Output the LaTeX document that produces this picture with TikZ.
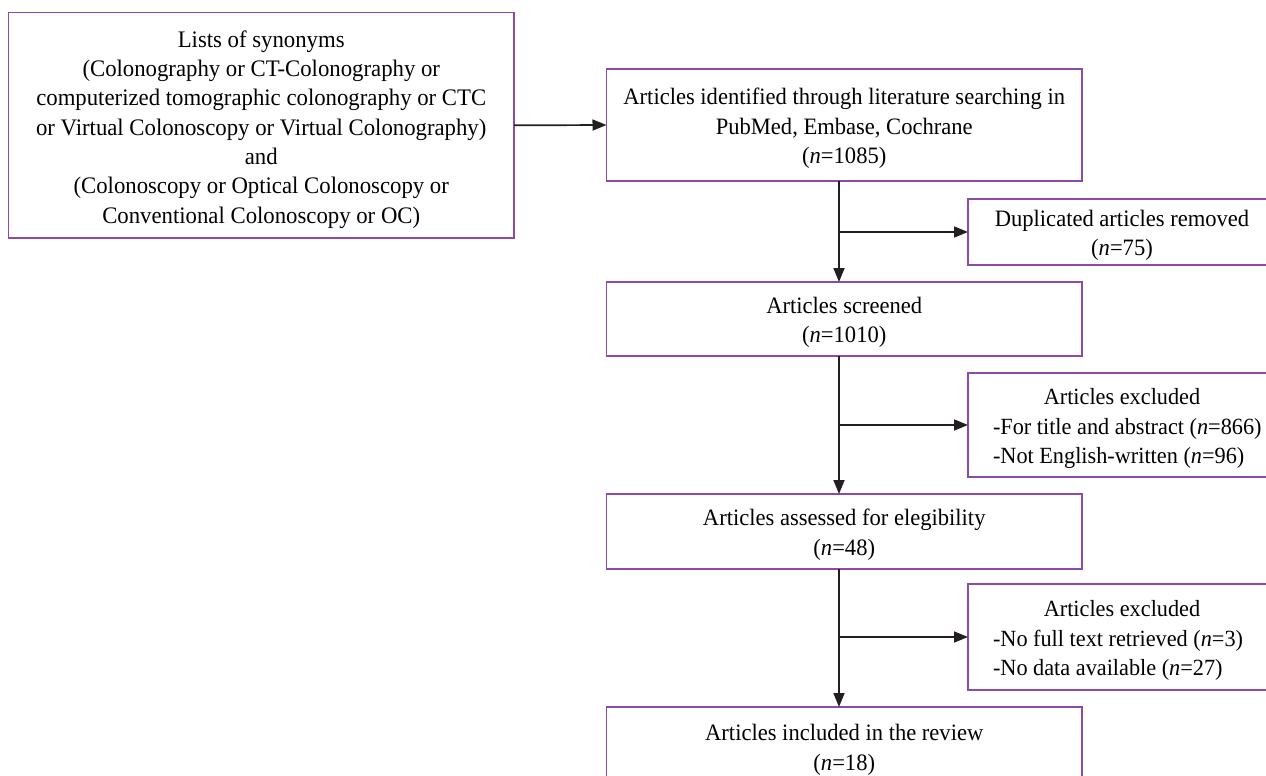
\documentclass[tikz,border=0pt]{standalone}
\usepackage{fontspec}
\setmainfont{Liberation Serif}[FakeStretch=0.96]
\usetikzlibrary{arrows.meta}
\definecolor{boxpurple}{RGB}{140,75,170}
\definecolor{arrowgray}{RGB}{35,31,32}
\newcommand\boxfs{\fontsize{23.5}{29.6}\selectfont}
\newcommand\sidefs{\fontsize{23.2}{29.6}\selectfont}
\newcommand\leftfs{\fontsize{23.7}{29.3}\selectfont}
\newcommand\sideC[1]{\makebox[258pt][c]{#1}}
\newcommand\sideL[1]{\makebox[258pt][l]{#1}}
\tikzset{
  flowbox/.style={draw=boxpurple, line width=1.5pt, inner sep=0pt, outer sep=0pt},
  flowtext/.style={inner sep=0pt, outer sep=0pt, align=center, font=\boxfs, text=black},
  flowarrow/.style={draw=arrowgray, line width=1.7pt, -{Triangle[length=14pt,width=11pt]}},
}
\begin{document}
\begin{tikzpicture}[x=1pt,y=-1pt]
\useasboundingbox (0,0) rectangle (1266,776);
% boxes
\node[flowbox, minimum width=505.5, minimum height=225.3] (left) at (261.25,125.35) {};
\node[flowbox, minimum width=475.5, minimum height=112] (b1) at (844.25,125) {};
\node[flowbox, minimum width=308, minimum height=66] (s1) at (1122,232) {};
\node[flowbox, minimum width=475.5, minimum height=74] (b2) at (844.25,319) {};
\node[flowbox, minimum width=308, minimum height=104] (s2) at (1122,425) {};
\node[flowbox, minimum width=475.5, minimum height=75] (b3) at (844.25,531.5) {};
\node[flowbox, minimum width=308, minimum height=106] (s3) at (1122,637) {};
\node[flowbox, minimum width=475.5, minimum height=79] (b4) at (844.25,746.5) {};
% texts
\node[flowtext, font=\leftfs] (leftt) at ([yshift=-4pt]left.center)
  {Lists of synonyms\\(Colonography or CT-Colonography or\\computerized tomographic colonography or CTC\\or Virtual Colonoscopy or Virtual Colonography)\\and\\(Colonoscopy or Optical Colonoscopy or\\Conventional Colonoscopy or OC)};
\node[flowtext] (b1t) at ([yshift=-3.5pt]b1.center)
  {Articles identified through literature searching in\\PubMed, Embase, Cochrane\\(\textit{n}=1085)};
\node[flowtext] (s1t) at ([yshift=-3.5pt]s1.center)
  {Duplicated articles removed\\(\textit{n}=75)};
\node[flowtext] (b2t) at ([yshift=-3.5pt]b2.center)
  {Articles screened\\(\textit{n}=1010)};
\node[flowtext, font=\sidefs, align=left] (s2t) at ([yshift=-3.5pt]s2.center)
  {\sideC{Articles excluded}\\\sideL{-For title and abstract (\textit{n}=866)}\\\sideL{-Not English-written (\textit{n}=96)}};
\node[flowtext] (b3t) at ([yshift=-3.5pt]b3.center)
  {Articles assessed for elegibility\\(\textit{n}=48)};
\node[flowtext, font=\sidefs, align=left] (s3t) at ([yshift=-3.5pt]s3.center)
  {\sideC{Articles excluded}\\\sideL{-No full text retrieved (\textit{n}=3)}\\\sideL{-No data available (\textit{n}=27)}};
\node[flowtext] (b4t) at ([yshift=-3.5pt]b4.center)
  {Articles included in the review\\(\textit{n}=18)};
% connectors
\coordinate (vx) at (839,0);
\draw[flowarrow] (left.east) -- (b1.west);
\draw[flowarrow] (b1.south -| vx) -- (b2.north -| vx);
\draw[flowarrow] (vx |- s1.west) -- (s1.west);
\draw[flowarrow] (b2.south -| vx) -- (b3.north -| vx);
\draw[flowarrow] (vx |- s2.west) -- (s2.west);
\draw[flowarrow] (b3.south -| vx) -- (b4.north -| vx);
\draw[flowarrow] (vx |- s3.west) -- (s3.west);
\end{tikzpicture}
\end{document}
